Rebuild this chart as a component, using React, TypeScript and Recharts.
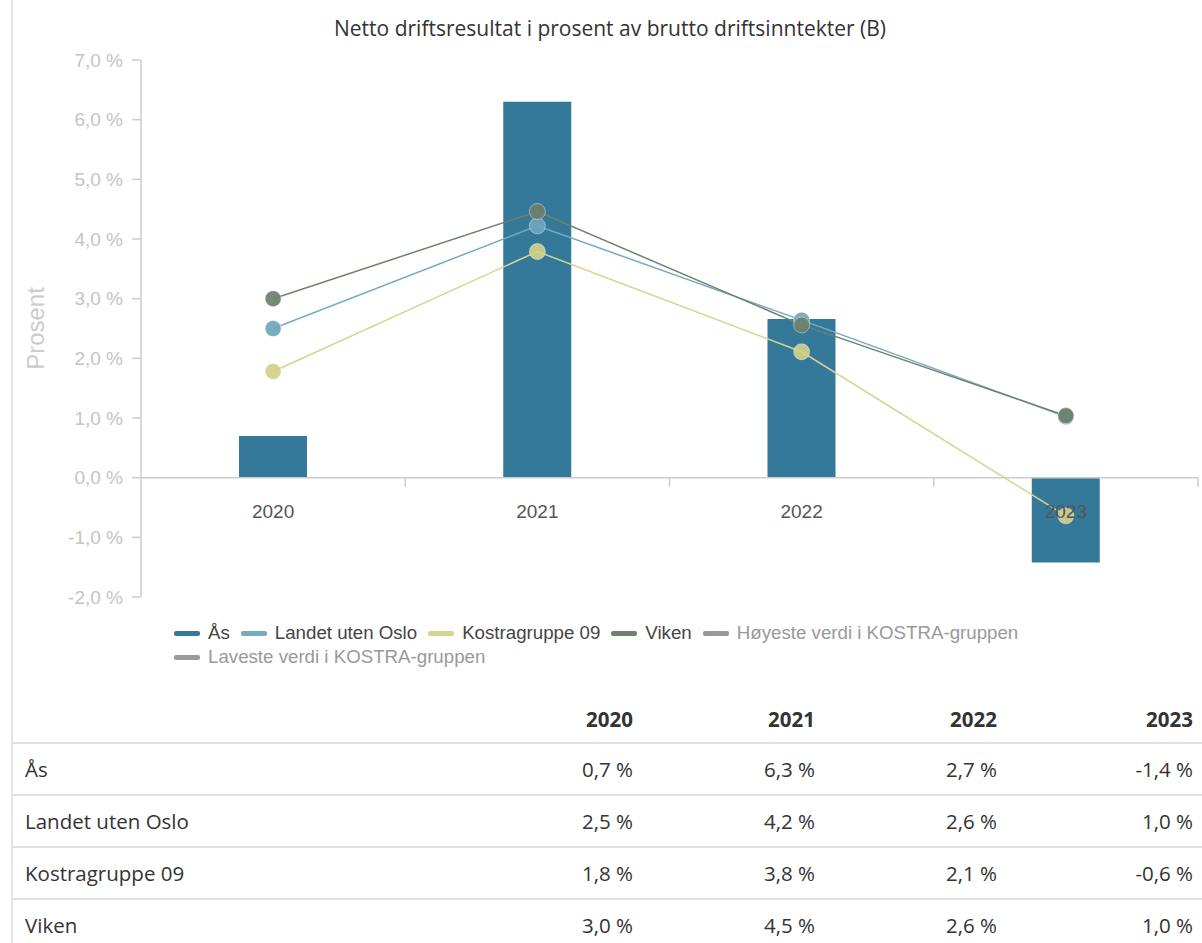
import { ComposedChart, Bar, Line, XAxis, YAxis, ReferenceLine, Label } from "recharts";

const years = ["2020", "2021", "2022", "2023"];
const asValues = [0.7, 6.3, 2.66, -1.42];
const landetValues = [2.5, 4.22, 2.64, 1.02];
const kostraValues = [1.78, 3.79, 2.11, -0.64];
const vikenValues = [3.0, 4.46, 2.56, 1.04];
const yTicks = [-2, -1, 0, 1, 2, 3, 4, 5, 6, 7];

const seriesRows = [
  { name: "Ås", values: asValues },
  { name: "Landet uten Oslo", values: landetValues },
  { name: "Kostragruppe 09", values: kostraValues },
  { name: "Viken", values: vikenValues },
];

const legendItems = [
  { name: "Ås", color: "#35799a", text: "#444" },
  { name: "Landet uten Oslo", color: "#74abc2", text: "#444" },
  { name: "Kostragruppe 09", color: "#d6d48e", text: "#444" },
  { name: "Viken", color: "#6f806d", text: "#444" },
  { name: "Høyeste verdi i KOSTRA-gruppen", color: "#999", text: "#999" },
  { name: "Laveste verdi i KOSTRA-gruppen", color: "#999", text: "#999" },
];

const data = years.map((year, i) => ({
  year,
  as: asValues[i],
  landet: landetValues[i],
  kostra: kostraValues[i],
  viken: vikenValues[i],
}));

const CHART_W = 1202;
const CHART_H = 620;
const MARGIN = { top: 60, right: 4, left: 0, bottom: 20 };
const Y_W = 141;
const X_H = 3;
const plotH = CHART_H - MARGIN.top - MARGIN.bottom - X_H;
const zeroY = MARGIN.top + (plotH * 7) / 9;
const band = (CHART_W - MARGIN.left - MARGIN.right - Y_W) / years.length;

const fmt = (v: number) => v.toFixed(1).replace(".", ",").replace("-0,0", "0,0") + " %";

const chartFont = "'Liberation Sans', Arial, sans-serif";
const textFont = "'Open Sans', sans-serif";

function XTick(props: any) {
  const { x, payload } = props;
  return (
    <g>
      <text x={x} y={zeroY + 40} textAnchor="middle" fill="#555" fontSize={19} fontFamily={chartFont}>
        {payload.value}
      </text>
      <line x1={x + band / 2} x2={x + band / 2} y1={zeroY} y2={zeroY + 9} stroke="#ccc" strokeWidth={1.5} />
    </g>
  );
}

function Dot(color: string) {
  return (props: any) => {
    const { cx, cy, index } = props;
    return <circle key={index} cx={cx} cy={cy} r={8} fill={color} fillOpacity={0.92} stroke="#fff" strokeOpacity={0.4} strokeWidth={1} />;
  };
}

export default function App() {
  return (
    <div style={{ position: "absolute", left: 0, top: 0, width: 1202, height: 943, background: "#fff", overflow: "hidden" }}>
      <div style={{ position: "absolute", left: 11, top: 0, width: 2, height: 943, background: "#e4e4e4" }} />
      <div
        style={{
          position: "absolute",
          top: 14,
          left: 18,
          width: 1184,
          textAlign: "center",
          fontFamily: textFont,
          fontSize: 21,
          color: "#333",
        }}
      >
        Netto driftsresultat i prosent av brutto driftsinntekter (B)
      </div>
      <div style={{ position: "absolute", left: 0, top: 0 }}>
        <ComposedChart width={CHART_W} height={CHART_H} data={data} margin={MARGIN}>
          <YAxis
            width={Y_W}
            domain={[-2, 7]}
            ticks={yTicks}
            interval={0}
            tickFormatter={fmt}
            tickSize={9}
            tickMargin={9}
            axisLine={{ stroke: "#ccc", strokeWidth: 1.5 }}
            tickLine={{ stroke: "#ccc", strokeWidth: 1.5 }}
            tick={{ fill: "#c4c4c4", fontSize: 19, fontFamily: chartFont }}
          >
            <Label
              content={(p: any) => {
                const vb = p.viewBox;
                const cx = vb.x + 35;
                const cy = vb.y + vb.height / 2;
                return (
                  <text
                    x={cx}
                    y={cy}
                    transform={`rotate(-90 ${cx} ${cy})`}
                    textAnchor="middle"
                    dominantBaseline="central"
                    fill="#ccc"
                    fontSize={24}
                    fontFamily={chartFont}
                  >
                    Prosent
                  </text>
                );
              }}
            />
          </YAxis>
          <XAxis dataKey="year" height={X_H} axisLine={false} tickLine={false} tick={<XTick />} interval={0} />
          <ReferenceLine y={0} stroke="#ccc" strokeWidth={1.5} />
          <Bar dataKey="as" fill="#35799a" barSize={68} isAnimationActive={false} />
          <Line dataKey="landet" stroke="#74abc2" strokeWidth={1.5} dot={Dot("#6ea5bb")} activeDot={false} isAnimationActive={false} />
          <Line dataKey="kostra" stroke="#d6d48e" strokeWidth={1.5} dot={Dot("#d4d08a")} activeDot={false} isAnimationActive={false} />
          <Line dataKey="viken" stroke="#6f806d" strokeWidth={1.5} dot={Dot("#6e7f6b")} activeDot={false} isAnimationActive={false} />
        </ComposedChart>
      </div>
      <div
        style={{
          position: "absolute",
          top: 622,
          left: 174,
          width: 880,
          display: "flex",
          flexWrap: "wrap",
          columnGap: 11,
          rowGap: 2,
          fontFamily: chartFont,
          fontSize: 18.7,
          lineHeight: "22px",
        }}
      >
        {legendItems.map((it) => (
          <div key={it.name} style={{ display: "flex", alignItems: "center", color: it.text }}>
            <span style={{ display: "inline-block", width: 26, height: 5, borderRadius: 2, background: it.color, marginRight: 8 }} />
            {it.name}
          </div>
        ))}
      </div>
      <div style={{ position: "absolute", top: 696, left: 12, width: 1190, fontFamily: textFont, fontSize: 20.5, color: "#333" }}>
        <div style={{ display: "flex", height: 46, alignItems: "center", borderBottom: "2px solid #e0e0e0", fontWeight: 700 }}>
          <div style={{ width: 439 }} />
          {years.map((y, i) => (
            <div key={y} style={{ width: i === 3 ? 196 : 182, textAlign: "right" }}>
              {y}
            </div>
          ))}
        </div>
        {seriesRows.map((row) => (
          <div key={row.name} style={{ display: "flex", height: 50, alignItems: "center", borderBottom: "2px solid #e0e0e0" }}>
            <div style={{ width: 426, paddingLeft: 13 }}>{row.name}</div>
            {row.values.map((v, i) => (
              <div key={i} style={{ width: i === 3 ? 196 : 182, textAlign: "right" }}>
                {fmt(v)}
              </div>
            ))}
          </div>
        ))}
      </div>
    </div>
  );
}
